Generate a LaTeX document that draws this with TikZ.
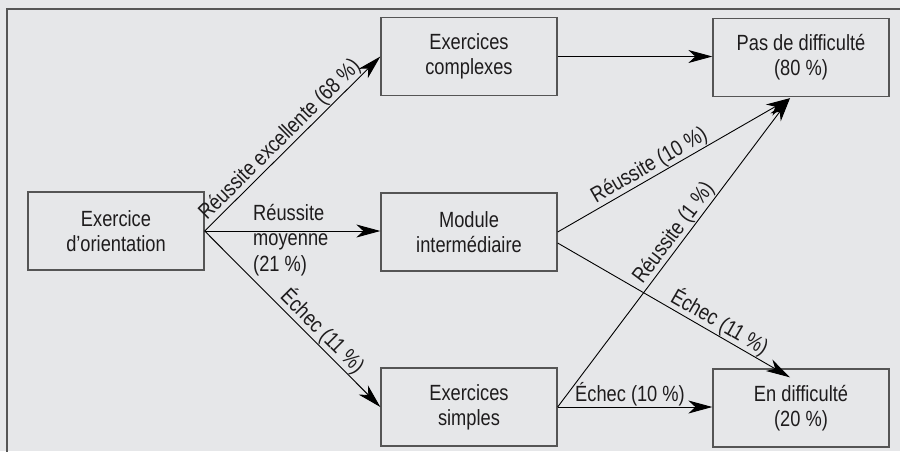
\documentclass[tikz,border=0pt]{standalone}
\usepackage{fontspec}
\setmainfont{Liberation Sans}[FakeStretch=0.83]
\usetikzlibrary{arrows.meta,calc}
\definecolor{bg}{RGB}{230,231,233}
\definecolor{boxline}{RGB}{85,85,85}
\definecolor{txt}{RGB}{30,28,29}
\begin{document}
\begin{tikzpicture}[x=1pt,y=-1pt,
  box/.style={draw=boxline, line width=1.3pt, minimum width=176pt, minimum height=78pt,
    inner sep=0pt, align=center, font=\fontsize{22}{25}\selectfont, text=txt},
  conn/.style={draw=black, line width=0.9pt, -{Stealth[length=24pt,width=13pt,inset=7pt]}},
  lbl/.style={font=\fontsize{22}{25.5}\selectfont, text=txt, inner sep=0.6pt},
]
\fill[bg] (0,0) rectangle (900,451);
\useasboundingbox (0,0) rectangle (900,451);
\draw[boxline, line width=1.2pt] (7,453) -- (7,9) -- (902,9);

\node[box] (ori)   at (116,231)   {Exercice\\d’orientation};
\node[box] (comp)  at (469,56.5)  {Exercices\\complexes};
\node[box] (pas)   at (801,57.5)  {Pas de difficulté\\(80 \%)};
\node[box] (mod)   at (469,232)   {Module\\intermédiaire};
\node[box] (simp)  at (469,407)   {Exercices\\simples};
\node[box] (endif) at (801,408)   {En difficulté\\(20 \%)};

\coordinate (pasin) at ($(pas.south)+(-11,1)$);
\coordinate (endin) at ($(endif.north)+(-11,9)$);
\coordinate (modlo) at ($(mod.east)+(0,11)$);

\draw[conn] (ori.east) -- node[lbl, sloped, above, pos=0.475] {Réussite excellente (68 \%)} (comp.west);
\draw[conn] (ori.east) -- (ori.east -| mod.west);
\draw[conn] (ori.east) -- node[lbl, sloped, above, pos=0.62] {Échec (11 \%)} (simp.west);
\draw[conn] (comp.east) -- (comp.east -| pas.west);
\draw[conn] (mod.east) -- node[lbl, sloped, above, pos=0.42] {Réussite (10 \%)} (pasin);
\draw[conn] (modlo) -- node[lbl, sloped, above, pos=0.67] {Échec (11 \%)} (endin);
\draw[conn] (simp.east) -- node[lbl, sloped, above, pos=0.54] {Réussite (1 \%)} (pasin);
\draw[conn] (simp.east) -- (simp.east -| endif.west);

\node[lbl, anchor=base west, align=left, inner sep=0pt] (moy) at (253,271) {Réussite\\moyenne\\(21 \%)};
\node[lbl, anchor=south west, inner sep=0pt] (ech10) at (575,406) {Échec (10 \%)};
\end{tikzpicture}
\end{document}
